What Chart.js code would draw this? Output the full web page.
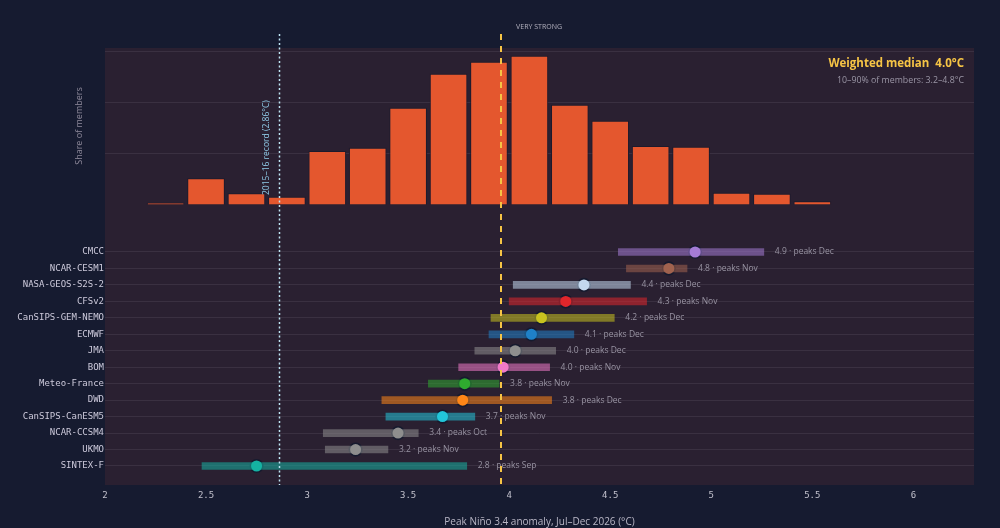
<!DOCTYPE html>
<html>
<head>
<meta charset="utf-8">
<script src="https://cdn.jsdelivr.net/npm/chart.js@4.4.1/dist/chart.umd.min.js"></script>
<style>
  html, body { margin: 0; padding: 0; background: #161b30; }
  #wrap { position: relative; width: 1000px; height: 528px; }
  #histCanvas { position: absolute; left: 0; top: 0; }
  #rangeCanvas { position: absolute; left: 0; top: 0; }
</style>
</head>
<body>
<div id="wrap">
  <canvas id="histCanvas" width="1000" height="205"></canvas>
  <canvas id="rangeCanvas" width="1000" height="528"></canvas>
</div>
<script>
// histogram bins (centres, °C) and share of members (%)
const binCentres = [2.3, 2.5, 2.7, 2.9, 3.1, 3.3, 3.5, 3.7, 3.9, 4.1, 4.3, 4.5, 4.7, 4.9, 5.1, 5.3, 5.5, 5.7, 5.9, 6.1];
const binShare = [0.23, 2.62, 1.15, 0.81, 5.29, 5.62, 9.54, 12.87, 14.05, 14.64, 9.83, 8.26, 5.78, 5.72, 1.21, 1.11, 0.36, 0, 0, 0];

// models, top to bottom
const models = ['CMCC', 'NCAR-CESM1', 'NASA-GEOS-S2S-2', 'CFSv2', 'CanSIPS-GEM-NEMO', 'ECMWF', 'JMA', 'BOM',
  'Meteo-France', 'DWD', 'CanSIPS-CanESM5', 'NCAR-CCSM4', 'UKMO', 'SINTEX-F'];
const rangeLow = [4.54, 4.58, 4.02, 4.00, 3.91, 3.90, 3.83, 3.75, 3.60, 3.37, 3.39, 3.08, 3.09, 2.48];
const rangeHigh = [5.26, 4.88, 4.60, 4.68, 4.52, 4.32, 4.23, 4.20, 3.95, 4.21, 3.83, 3.55, 3.40, 3.79];
const peakValue = [4.92, 4.79, 4.37, 4.28, 4.16, 4.11, 4.03, 3.97, 3.78, 3.77, 3.67, 3.45, 3.24, 2.75];
const peakText = ['4.9', '4.8', '4.4', '4.3', '4.2', '4.1', '4.0', '4.0', '3.8', '3.8', '3.7', '3.4', '3.2', '2.8'];
const peakMonth = ['Dec', 'Nov', 'Dec', 'Nov', 'Dec', 'Dec', 'Dec', 'Nov', 'Nov', 'Dec', 'Nov', 'Oct', 'Nov', 'Sep'];
const modelColours = ['#a47bd6', '#a0624f', '#c3d8ef', '#e0262c', '#c9c21f', '#1f82c8', '#8e8e8e', '#f07ac8',
  '#2faa30', '#ff8618', '#22c6da', '#8e8e8e', '#8e8e8e', '#15b2a2'];

const xTicks = [2, 2.5, 3, 3.5, 4, 4.5, 5, 5.5, 6];
const recordValue = 2.86;
const medianValue = 3.96;

const PANEL = '#2a2031';
const GRID = '#3a3041';
const FONT = "'Open Sans', sans-serif";
const MONO = "'DejaVu Sans Mono', monospace";

Chart.defaults.font.family = FONT;
Chart.defaults.animation = false;

function withAlpha(hex, a) {
  const n = parseInt(hex.slice(1), 16);
  return `rgba(${(n >> 16) & 255}, ${(n >> 8) & 255}, ${n & 255}, ${a})`;
}

// fill the plot area
const panelBg = {
  id: 'panelBg',
  beforeDraw(chart) {
    const { ctx, chartArea: a } = chart;
    ctx.save();
    ctx.fillStyle = PANEL;
    ctx.fillRect(a.left, a.top, a.right - a.left, a.bottom - a.top);
    ctx.restore();
  }
};

const histText = {
  id: 'histText',
  afterDraw(chart) {
    const { ctx, chartArea: a } = chart;
    const x = chart.scales.x;
    ctx.save();
    // y title
    ctx.fillStyle = '#8e899a';
    ctx.font = `9px ${FONT}`;
    ctx.textAlign = 'center';
    ctx.textBaseline = 'middle';
    ctx.translate(79, 126);
    ctx.rotate(-Math.PI / 2);
    ctx.fillText('Share of members', 0, 0);
    ctx.restore();

    ctx.save();
    ctx.fillStyle = '#8fcbe8';
    ctx.font = `8.5px ${FONT}`;
    ctx.textAlign = 'left';
    ctx.textBaseline = 'middle';
    ctx.translate(x.getPixelForValue(recordValue) - 12, 195);
    ctx.rotate(-Math.PI / 2);
    ctx.fillText('2015\u201316 record (2.86\u00b0C)', 0, 0);
    ctx.restore();

    ctx.save();
    ctx.textAlign = 'right';
    ctx.textBaseline = 'middle';
    ctx.fillStyle = '#f6c445';
    ctx.font = `bold 11.5px ${FONT}`;
    ctx.fillText('Weighted median  4.0\u00b0C', a.right - 10, 64);
    ctx.fillStyle = '#9a95a5';
    ctx.font = `8.8px ${FONT}`;
    ctx.fillText('10\u201390% of members: 3.2\u20134.8\u00b0C', a.right - 10, 80);
    ctx.textAlign = 'left';
    ctx.fillStyle = '#b4b2bf';
    ctx.font = `7px ${FONT}`;
    ctx.fillText('VERY STRONG', x.getPixelForValue(medianValue) + 15, 27);
    ctx.restore();
  }
};

new Chart(document.getElementById('histCanvas'), {
  type: 'bar',
  data: {
    datasets: [{
      data: binCentres.map((c, i) => ({ x: c, y: binShare[i] })),
      backgroundColor: '#e4572e',
      borderColor: '#1d1a2c',
      borderWidth: 1,
      barPercentage: 0.93,
      categoryPercentage: 1
    }]
  },
  options: {
    responsive: false,
    layout: { padding: { top: 48, left: 105, right: 26, bottom: 0 } },
    plugins: { legend: { display: false }, tooltip: { enabled: false } },
    scales: {
      x: { type: 'linear', min: 2, max: 6.3, offset: false, display: false },
      y: {
        min: 0, max: 15.39,
        afterBuildTicks: s => { s.ticks = [0, 5, 10, 15].map(v => ({ value: v })); },
        afterFit: s => { s.width = 0; },
        ticks: { display: false },
        border: { display: false },
        grid: { color: GRID, drawTicks: false }
      }
    }
  },
  plugins: [panelBg, histText]
});

// labels to the right of each range
const rangeLabels = {
  id: 'rangeLabels',
  beforeDatasetsDraw(chart) {
    const { ctx } = chart;
    const x = chart.scales.x, y = chart.scales.y;
    ctx.save();
    ctx.fillStyle = '#9893a2';
    ctx.font = `8.5px ${FONT}`;
    ctx.textBaseline = 'middle';
    models.forEach((m, i) => {
      ctx.fillText(`${peakText[i]} \u00b7 peaks ${peakMonth[i]}`, x.getPixelForValue(rangeHigh[i]) + 11, y.getPixelForValue(i));
    });
    ctx.restore();
  },
  // reference lines sit over the ranges but under the dots
  afterDatasetDraw(chart, args) {
    if (args.index !== 0) return;
    const { ctx, chartArea: a } = chart;
    const x = chart.scales.x;
    ctx.save();
    ctx.lineWidth = 1.5;
    ctx.strokeStyle = '#bfe6f5';
    ctx.setLineDash([2, 2.5]);
    let px = Math.round(x.getPixelForValue(recordValue)) + 0.5;
    ctx.beginPath(); ctx.moveTo(px, 34); ctx.lineTo(px, a.bottom); ctx.stroke();
    ctx.lineWidth = 2;
    ctx.strokeStyle = '#f6c445';
    ctx.setLineDash([6, 6]);
    px = Math.round(x.getPixelForValue(medianValue));
    ctx.beginPath(); ctx.moveTo(px, 34); ctx.lineTo(px, a.bottom); ctx.stroke();
    ctx.restore();
  }
};

new Chart(document.getElementById('rangeCanvas'), {
  data: {
    datasets: [{
      type: 'bar',
      indexAxis: 'y',
      data: models.map((m, i) => ({ y: i, x: [rangeLow[i], rangeHigh[i]] })),
      backgroundColor: modelColours.map(c => withAlpha(c, 0.55)),
      borderWidth: 0,
      barThickness: 7
    }, {
      type: 'scatter',
      data: models.map((m, i) => ({ x: peakValue[i], y: i })),
      pointRadius: 6.3,
      pointBackgroundColor: modelColours,
      pointBorderColor: '#161a2e',
      pointBorderWidth: 1.6
    }]
  },
  options: {
    responsive: false,
    layout: { padding: { top: 205, left: 0, right: 26, bottom: 0 } },
    plugins: { legend: { display: false }, tooltip: { enabled: false } },
    scales: {
      x: {
        type: 'linear', min: 2, max: 6.3, offset: false,
        afterBuildTicks: s => { s.ticks = xTicks.map(v => ({ value: v })); },
        afterFit: s => { s.height = 43; },
        ticks: { color: '#c2c1cc', font: { family: MONO, size: 9 }, padding: 5, callback: v => String(v) },
        grid: { display: false, drawTicks: false },
        border: { display: false },
        title: {
          display: true,
          text: 'Peak Ni\u00f1o 3.4 anomaly, Jul\u2013Dec 2026 (\u00b0C)',
          color: '#b9b7c6',
          font: { size: 10 },
          padding: { top: 0, bottom: 0 }
        }
      },
      y: {
        type: 'linear', reverse: true, min: -2.855, max: 14.155, offset: false,
        afterBuildTicks: s => { s.ticks = models.map((m, i) => ({ value: i })); },
        afterFit: s => { s.width = 105; },
        ticks: { color: '#cdcadb', font: { family: MONO, size: 9 }, padding: 1, callback: v => models[v] },
        grid: { color: GRID, drawTicks: false, offset: false },
        border: { display: false }
      }
    }
  },
  plugins: [panelBg, rangeLabels]
});
</script>
</body>
</html>
